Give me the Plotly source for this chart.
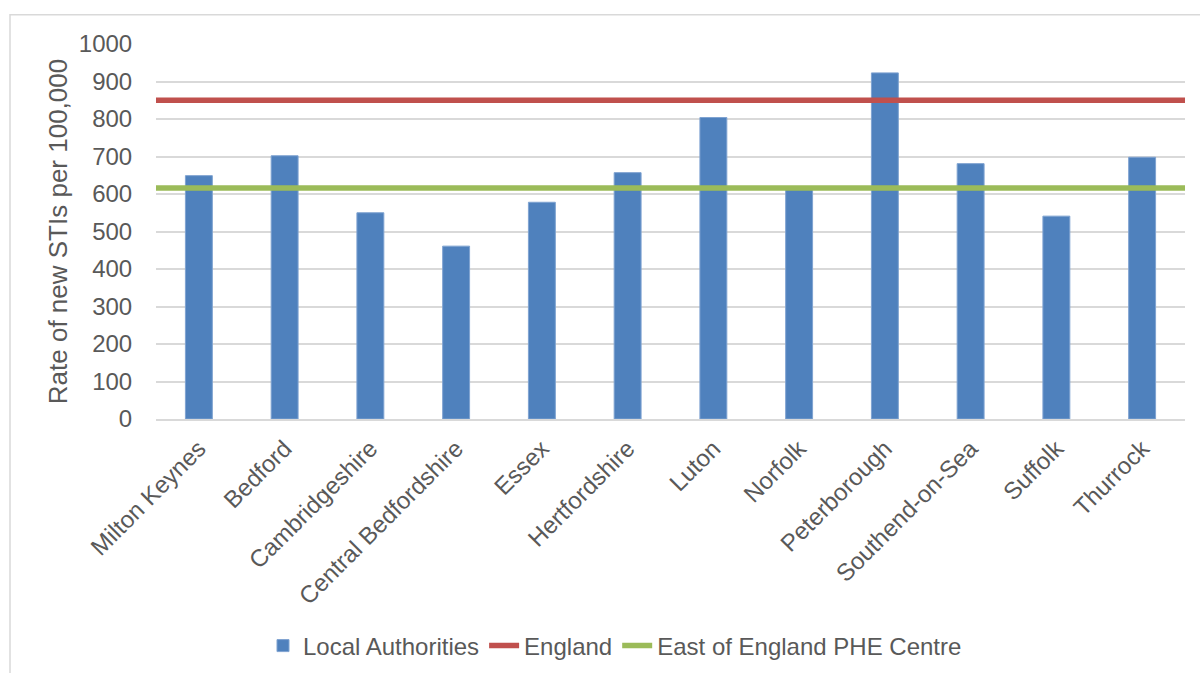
import plotly.graph_objects as go

categories = ["Milton Keynes", "Bedford", "Cambridgeshire", "Central Bedfordshire",
              "Essex", "Hertfordshire", "Luton", "Norfolk", "Peterborough",
              "Southend-on-Sea", "Suffolk", "Thurrock"]
la_values = [649, 702, 550, 461, 578, 657, 804, 612, 923, 681, 541, 698]
england_value = 850
eoe_value = 616
y_ticks = [0, 100, 200, 300, 400, 500, 600, 700, 800, 900, 1000]

FONT = "Liberation Sans, Arial, sans-serif"
TXT = "#595959"

fig = go.Figure()
fig.add_trace(go.Bar(
    x=categories, y=la_values, name="Local Authorities",
    marker=dict(color="#4F81BD", line=dict(color="#7FA3D1", width=1)),
))
fig.add_trace(go.Scatter(
    x=[0, 1], y=[england_value, england_value], name="England",
    mode="lines", line=dict(color="#C0504D", width=5.5), xaxis="x2",
))
fig.add_trace(go.Scatter(
    x=[0, 1], y=[eoe_value, eoe_value], name="East of England PHE Centre",
    mode="lines", line=dict(color="#9BBB59", width=5.5), xaxis="x2",
))

L, R, T, B = 156, 15, 44, 254
W, H = 1200, 673
pw = W - L - R
ph = H - T - B

def px_x(x):
    return (x - L) / pw

def px_y(y):
    return (H - B - y) / ph

fig.update_layout(
    width=W, height=H,
    margin=dict(l=L, r=R, t=T, b=B, autoexpand=False),
    paper_bgcolor="white", plot_bgcolor="white",
    font=dict(family=FONT, color=TXT, size=24),
    bargap=0.686,
    showlegend=True,
    legend=dict(orientation="h", x=px_x(615), xanchor="center", y=px_y(646), yanchor="middle",
                font=dict(size=24, color=TXT), itemwidth=30, traceorder="normal"),
    xaxis=dict(type="category", showgrid=False, showline=True, linecolor="#D9D9D9",
               linewidth=2, tickangle=-45, ticks="outside", ticklen=4,
               tickcolor="rgba(0,0,0,0)", tickfont=dict(size=24, color=TXT),
               fixedrange=True),
    xaxis2=dict(overlaying="x", range=[0, 1], visible=False, fixedrange=True),
    yaxis=dict(range=[0, 1000], tickvals=y_ticks, showgrid=True, gridcolor="#D9D9D9",
               gridwidth=2, zeroline=False, showline=False, ticks="outside", ticklen=18,
               tickcolor="rgba(0,0,0,0)", tickfont=dict(size=24, color=TXT),
               title=dict(text="Rate of new STIs per 100,000", font=dict(size=26, color=TXT),
                          standoff=3),
               fixedrange=True),
    shapes=[dict(type="rect", xref="paper", yref="paper",
                 x0=px_x(10), x1=px_x(1210), y0=px_y(14.7), y1=px_y(690),
                 line=dict(color="#D9D9D9", width=1.5), fillcolor="rgba(0,0,0,0)",
                 layer="below")],
)

fig.write_html("out.html")
